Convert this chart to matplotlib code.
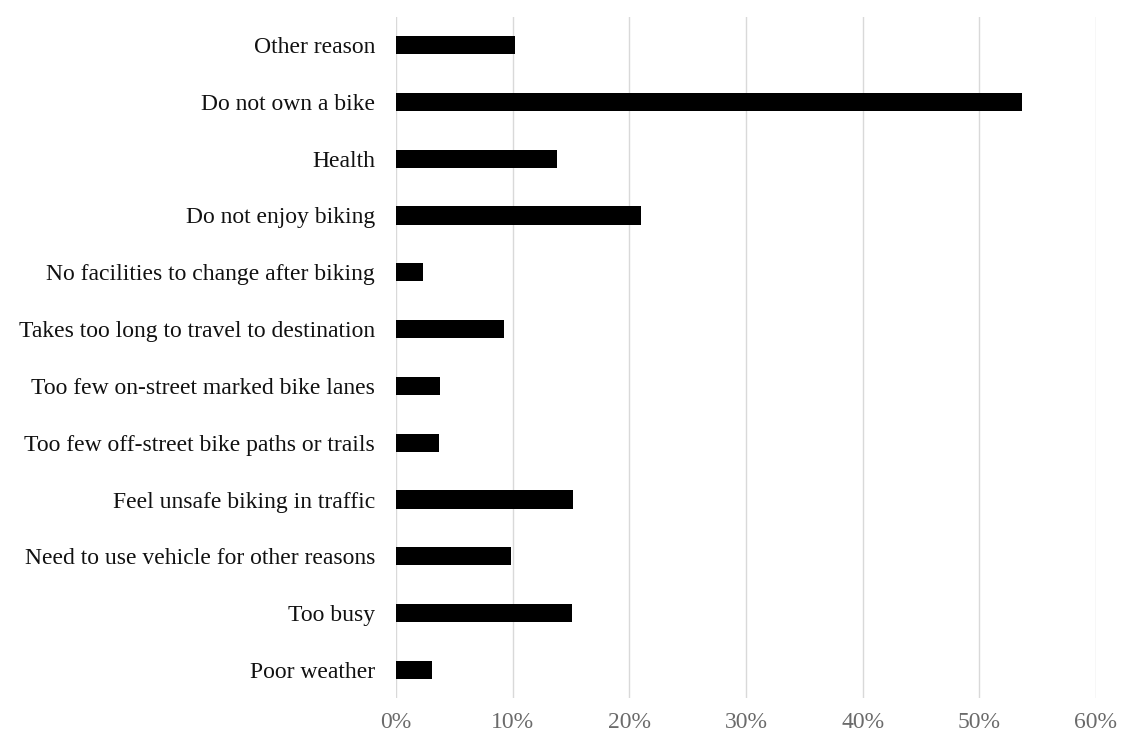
import matplotlib.pyplot as plt
from matplotlib.ticker import PercentFormatter

# Reasons for not biking (bottom to top as drawn)
razones = [
    "Poor weather",
    "Too busy",
    "Need to use vehicle for other reasons",
    "Feel unsafe biking in traffic",
    "Too few off-street bike paths or trails",
    "Too few on-street marked bike lanes",
    "Takes too long to travel to destination",
    "No facilities to change after biking",
    "Do not enjoy biking",
    "Health",
    "Do not own a bike",
    "Other reason",
]
porcentajes = [3.1, 15.1, 9.9, 15.2, 3.7, 3.8, 9.3, 2.3, 21.0, 13.8, 53.7, 10.2]
ticks_x = [0, 10, 20, 30, 40, 50, 60]

plt.rcParams['font.family'] = ['Liberation Serif', 'DejaVu Serif']

fig = plt.figure(figsize=(11.22, 7.38), dpi=100)
ax = fig.add_axes([0.3529, 0.0537, 0.6239, 0.9238])

ax.barh(range(len(razones)), porcentajes, height=0.32, color='black', zorder=3)

ax.set_xlim(0, 60)
ax.set_ylim(-0.5, len(razones) - 0.5)
ax.set_xticks(ticks_x)
ax.xaxis.set_major_formatter(PercentFormatter(decimals=0))
ax.set_yticks(range(len(razones)))
ax.set_yticklabels(razones)

ax.grid(axis='x', color='#d9d9d9', linewidth=1, zorder=0)
for s in ax.spines.values():
    s.set_visible(False)
ax.tick_params(axis='both', length=0)
ax.tick_params(axis='x', labelsize=17, labelcolor='#6b6b6b', pad=10)
ax.tick_params(axis='y', labelsize=17, labelcolor='#111111', pad=15)

fig.savefig('out.png', dpi=100)
